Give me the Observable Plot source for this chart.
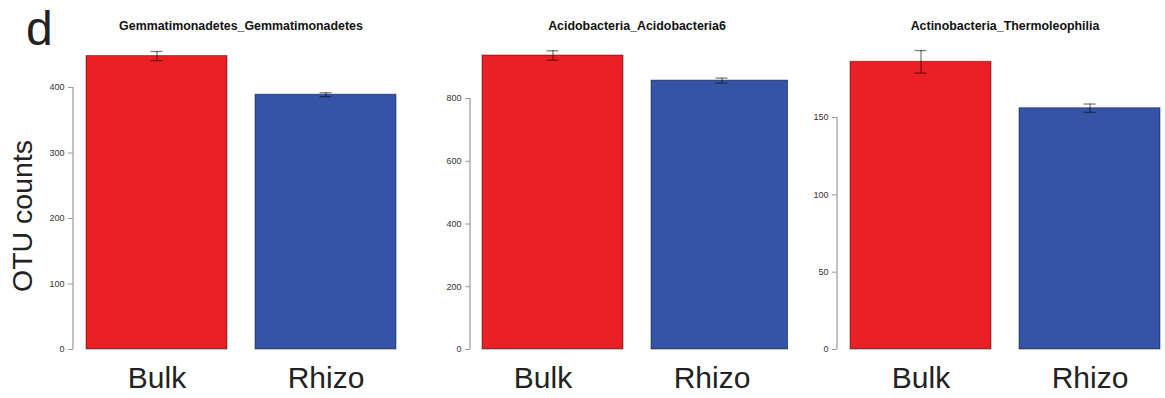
<!DOCTYPE html>
<html>
<head>
<meta charset="utf-8">
<script src="https://cdn.jsdelivr.net/npm/d3@7"></script>
<script src="https://cdn.jsdelivr.net/npm/@observablehq/plot@0.6"></script>
<style>
  body { margin: 0; background: #fff; }
  #fig { position: relative; width: 1165px; height: 398px; overflow: hidden; background: #fff;
         font-family: "Liberation Sans", Arial, sans-serif; }
  .panel { position: absolute; top: 0; height: 398px; overflow: hidden; }
  .panel svg { max-width: none !important; }
</style>
</head>
<body>
<div id="fig"></div>
<script>
// OTU counts (mean ± s.e.) for three taxa, bulk soil vs rhizosphere
const groups = ["Bulk", "Rhizo"];
const taxa = ["Gemmatimonadetes_Gemmatimonadetes", "Acidobacteria_Acidobacteria6", "Actinobacteria_Thermoleophilia"];
const bulkMeans = [448, 937, 186];
const rhizoMeans = [389, 857, 156];
const bulkErrors = [7, 15, 7.3];
const rhizoErrors = [3, 8, 2.7];
const yTicks = [[0, 100, 200, 300, 400], [0, 200, 400, 600, 800], [0, 50, 100, 150]];
const groupColors = ["#ec2024", "#3554a5"];

// panel placement within the figure
const layout = [
  {left: 0,   width: 400, clip: 400, marginLeft: 73, marginRight: 4, marginTop: 87,  inset: 13, labelDx: 0},
  {left: 400, width: 400, clip: 388, marginLeft: 70, marginRight: 8, marginTop: 98,  inset: 12, labelDx: -10},
  {left: 788, width: 377, clip: 377, marginLeft: 49, marginRight: 5, marginTop: 117, inset: 12, labelDx: 0}
];

const fig = document.getElementById("fig");
const titleX = [];

taxa.forEach((taxon, i) => {
  const L = layout[i];
  const rows = [
    {group: groups[0], mean: bulkMeans[i], err: bulkErrors[i]},
    {group: groups[1], mean: rhizoMeans[i], err: rhizoErrors[i]}
  ].map(d => ({...d, lo: d.mean - d.err, hi: d.mean + d.err}));
  const ticks = yTicks[i];
  const capInset = 64.5;

  // vertical axis line running from the lowest to the highest tick
  const axisLine = (index, {y}, values, {marginLeft}) =>
    d3.create("svg:line")
      .attr("x1", marginLeft).attr("x2", marginLeft)
      .attr("y1", y(d3.min(ticks))).attr("y2", y(d3.max(ticks)))
      .attr("stroke", "#9a9a9a").attr("stroke-width", 1.2)
      .node();

  const plot = Plot.plot({
    width: L.width,
    height: 398,
    marginLeft: L.marginLeft,
    marginRight: L.marginRight,
    marginTop: L.marginTop,
    marginBottom: 49,
    style: {fontFamily: "'Liberation Sans', Arial, sans-serif", background: "transparent", maxWidth: "none"},
    x: {domain: groups, paddingInner: 0.166, paddingOuter: 0, insetLeft: L.inset, label: null},
    y: {domain: [0, d3.max(ticks)], nice: false, label: null},
    color: {domain: groups, range: groupColors},
    marks: [
      Plot.barY(rows, {x: "group", y: "mean", fill: "group", stroke: "#000", strokeOpacity: 0.45, strokeWidth: 1}),
      Plot.ruleX(rows, {x: "group", y1: "lo", y2: "hi", stroke: "#000", strokeOpacity: 0.5, strokeWidth: 1.3}),
      Plot.tickY(rows, {x: "group", y: "lo", stroke: "#000", strokeOpacity: 0.5, strokeWidth: 1.3, insetLeft: capInset, insetRight: capInset}),
      Plot.tickY(rows, {x: "group", y: "hi", stroke: "#000", strokeOpacity: 0.5, strokeWidth: 1.3, insetLeft: capInset, insetRight: capInset}),
      axisLine,
      Plot.axisY({ticks, tickSize: 5, tickPadding: 4, fontSize: 9, stroke: "#9a9a9a", fill: "#333", label: null}),
      Plot.axisX({tickSize: 0, tickPadding: 17, fontSize: 30, fill: "#222", label: null, dx: L.labelDx})
    ]
  });

  const holder = document.createElement("div");
  holder.className = "panel";
  holder.style.left = L.left + "px";
  holder.style.width = L.clip + "px";
  holder.appendChild(plot);
  fig.appendChild(holder);

  const xs = plot.scale("x");
  titleX.push(L.left + (xs.apply(groups[0]) + xs.apply(groups[1]) + xs.bandwidth) / 2);
});

// panel letter, shared y label and panel titles
const overlay = d3.select(fig).append("svg")
  .attr("width", 1165).attr("height", 398)
  .style("position", "absolute").style("left", 0).style("top", 0)
  .style("pointer-events", "none")
  .style("font-family", "'Liberation Sans', Arial, sans-serif");

overlay.append("text").attr("x", 26).attr("y", 45).attr("font-size", 48).attr("fill", "#222").text("d");
overlay.append("text")
  .attr("transform", "translate(32,216) rotate(-90)")
  .attr("text-anchor", "middle").attr("font-size", 28.5).attr("fill", "#222")
  .text("OTU counts");
taxa.forEach((taxon, i) => {
  overlay.append("text")
    .attr("x", titleX[i]).attr("y", 30)
    .attr("text-anchor", "middle").attr("font-size", 12.4).attr("font-weight", "bold").attr("fill", "#111")
    .text(taxon);
});
</script>
</body>
</html>
